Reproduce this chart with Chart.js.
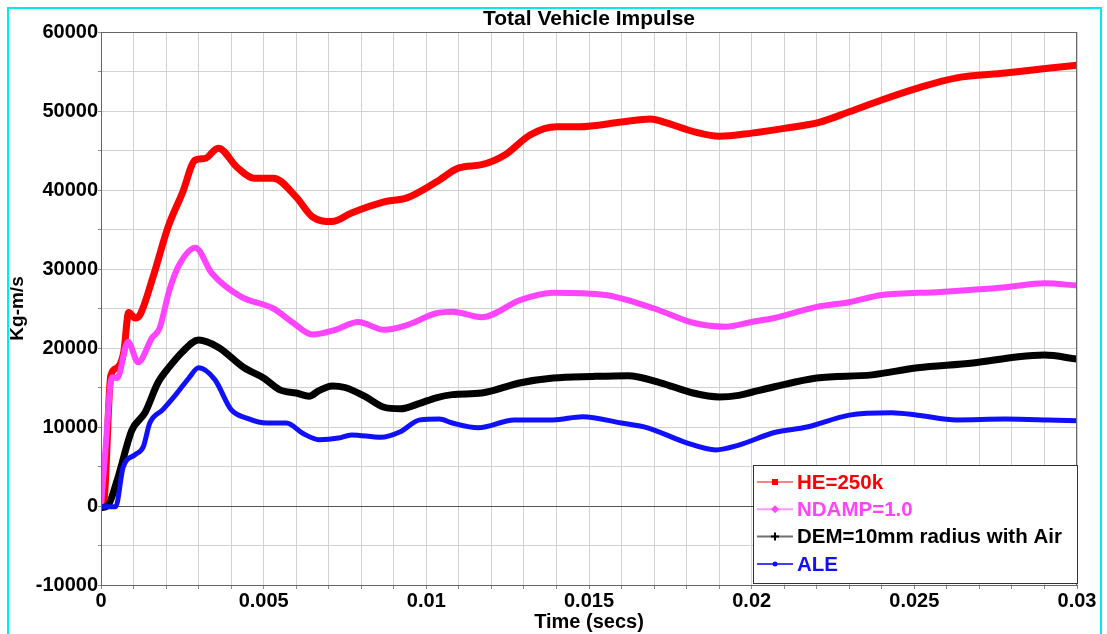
<!DOCTYPE html>
<html>
<head>
<meta charset="utf-8">
<script src="https://cdn.jsdelivr.net/npm/chart.js@4"></script>
<style>
  html, body { margin: 0; padding: 0; background: #fff; overflow: hidden; }
  #wrap { position: relative; width: 1107px; height: 634px; }
  #frame { position: absolute; left: 7px; top: 7px; width: 1091px; height: 700px; border: 2px solid #00eaf0; pointer-events: none; }
</style>
</head>
<body>
<div id="wrap">
  <canvas id="impulse" width="1107" height="634"></canvas>
  <div id="frame"></div>
</div>
<script>
const labels = ["HE=250k", "NDAMP=1.0", "DEM=10mm radius with Air", "ALE"];
const colors = ["#ff0000", "#ff44ff", "#000000", "#1010ff"];
const legendLineColors = ["#ff8080", "#ff99ff", "#707070", "#4040ff"];

// time (secs) and impulse (Kg-m/s)
const heX = [0, 0.0001, 0.0003, 0.0005, 0.0007, 0.00085, 0.00105, 0.0012, 0.0016, 0.00206, 0.0025, 0.0029, 0.0032, 0.0036, 0.0042, 0.0047, 0.0053, 0.006, 0.0065, 0.0071, 0.0077, 0.0087, 0.0094, 0.0103, 0.011, 0.0117, 0.0124, 0.0132, 0.014, 0.0147, 0.016, 0.0169, 0.0173, 0.0183, 0.019, 0.02, 0.021, 0.0221, 0.023, 0.024, 0.0251, 0.0263, 0.0278, 0.0291, 0.03];
const heY = [0, 1000, 16500, 17500, 19500, 24500, 23800, 24200, 29000, 35300, 39600, 43800, 44000, 45300, 42800, 41500, 41500, 39100, 36600, 36000, 37100, 38500, 39000, 41000, 42800, 43200, 44400, 47000, 48000, 48000, 48600, 49000, 48600, 47300, 46800, 47200, 47800, 48600, 49900, 51400, 52900, 54200, 54800, 55400, 55800];

const ndampX = [0, 0.00012, 0.00034, 0.0005, 0.00083, 0.00114, 0.00157, 0.0018, 0.0021, 0.0024, 0.0029, 0.0034, 0.0043, 0.0053, 0.0059, 0.0065, 0.0072, 0.0079, 0.0087, 0.0094, 0.0103, 0.0108, 0.0117, 0.0129, 0.0139, 0.0155, 0.017, 0.0182, 0.0192, 0.02, 0.0207, 0.022, 0.023, 0.024, 0.0258, 0.0278, 0.029, 0.03];
const ndampY = [0, 6200, 16300, 16200, 20800, 18200, 21300, 22500, 27300, 30500, 32700, 29500, 26500, 25000, 23200, 21700, 22300, 23300, 22300, 22900, 24400, 24600, 23900, 26100, 27000, 26700, 25000, 23200, 22700, 23300, 23800, 25200, 25800, 26700, 27100, 27700, 28200, 27900];

const demX = [0, 0.0002, 0.0005, 0.00095, 0.00135, 0.00175, 0.0021, 0.0025, 0.003, 0.0036, 0.0044, 0.005, 0.0055, 0.006, 0.0064, 0.0067, 0.0071, 0.0075, 0.0081, 0.0087, 0.0092, 0.0098, 0.0103, 0.0108, 0.0117, 0.0129, 0.0139, 0.0151, 0.0162, 0.0172, 0.0182, 0.019, 0.0196, 0.02, 0.0207, 0.022, 0.0237, 0.0251, 0.0268, 0.0282, 0.029, 0.03];
const demY = [-200, 0, 3300, 9600, 11800, 15600, 17600, 19500, 21000, 20100, 17500, 16200, 14700, 14300, 13900, 14600, 15200, 15000, 13900, 12500, 12300, 13000, 13700, 14100, 14300, 15600, 16200, 16400, 16500, 15600, 14300, 13800, 14000, 14400, 15100, 16200, 16600, 17500, 18100, 18900, 19100, 18600];

const aleX = [0, 0.00045, 0.00068, 0.00105, 0.0013, 0.0015, 0.0019, 0.0023, 0.0027, 0.003, 0.0035, 0.004, 0.0045, 0.0051, 0.0057, 0.0062, 0.0067, 0.0073, 0.0077, 0.0086, 0.0092, 0.0098, 0.0104, 0.0108, 0.0116, 0.0127, 0.0139, 0.0148, 0.016, 0.0168, 0.018, 0.0189, 0.0196, 0.0207, 0.0217, 0.023, 0.0243, 0.0251, 0.0263, 0.0278, 0.0291, 0.03];
const aleY = [-100, -100, 4900, 6500, 7500, 10500, 12200, 14100, 16200, 17500, 16000, 12200, 11100, 10500, 10500, 9200, 8400, 8600, 9000, 8700, 9400, 10900, 11000, 10500, 9900, 10900, 10900, 11300, 10500, 9900, 8000, 7100, 7700, 9300, 10000, 11500, 11800, 11500, 10900, 11000, 10900, 10800];

const xTickStep = 0.001;
const yTickStep = 5000;

function pts(xs, ys) {
  return xs.map((x, i) => ({ x: x, y: ys[i] }));
}

const series = [pts(heX, heY), pts(ndampX, ndampY), pts(demX, demY), pts(aleX, aleY)];
const widths = [7, 6, 7, 5];

const FONT = "'Liberation Sans', Arial, sans-serif";

// title centred over the plot area, frame and in-plot legend
const decorations = {
  id: "decorations",
  afterDraw(chart) {
    const ctx = chart.ctx;
    const a = chart.chartArea;
    ctx.save();
    ctx.fillStyle = "#000";
    ctx.font = "bold 21px " + FONT;
    ctx.textAlign = "center";
    ctx.textBaseline = "middle";
    ctx.fillText("Total Vehicle Impulse", (a.left + a.right) / 2, 19);

    ctx.strokeStyle = "#666";
    ctx.lineWidth = 1;
    ctx.strokeRect(a.left + 0.5, a.top + 0.5, a.right - a.left - 1, a.bottom - a.top);

    // legend box
    const bx = a.right - 324, by = a.bottom - 120, bw = 324, bh = 118;
    ctx.fillStyle = "#fff";
    ctx.fillRect(bx, by, bw, bh);
    ctx.strokeStyle = "#333";
    ctx.strokeRect(bx + 0.5, by + 0.5, bw, bh);
    ctx.font = "bold 20.5px " + FONT;
    ctx.textAlign = "left";
    labels.forEach((lab, i) => {
      const y = by + 17 + i * 27.3;
      ctx.strokeStyle = legendLineColors[i];
      ctx.lineWidth = 2;
      ctx.beginPath();
      ctx.moveTo(bx + 4, y);
      ctx.lineTo(bx + 40, y);
      ctx.stroke();
      ctx.fillStyle = colors[i];
      ctx.strokeStyle = colors[i];
      const mx = bx + 22;
      if (i === 0) {
        ctx.fillRect(mx - 3, y - 3, 6, 6);
      } else if (i === 1) {
        ctx.beginPath();
        ctx.moveTo(mx, y - 4); ctx.lineTo(mx + 4, y); ctx.lineTo(mx, y + 4); ctx.lineTo(mx - 4, y);
        ctx.closePath(); ctx.fill();
      } else if (i === 2) {
        ctx.lineWidth = 2;
        ctx.beginPath();
        ctx.moveTo(mx - 4, y); ctx.lineTo(mx + 4, y);
        ctx.moveTo(mx, y - 4); ctx.lineTo(mx, y + 4);
        ctx.stroke();
      } else {
        ctx.beginPath();
        ctx.arc(mx, y, 2.5, 0, Math.PI * 2);
        ctx.fill();
      }
      ctx.fillStyle = colors[i];
      ctx.fillText(lab, bx + 44, y + 1);
    });
    ctx.restore();
  }
};

new Chart("impulse", {
  type: "scatter",
  data: {
    datasets: series.map((d, i) => ({
      label: labels[i],
      data: d,
      showLine: true,
      borderColor: colors[i],
      backgroundColor: colors[i],
      borderWidth: widths[i],
      pointRadius: 0,
      cubicInterpolationMode: "monotone",
      order: 4 - i
    }))
  },
  options: {
    responsive: false,
    animation: false,
    devicePixelRatio: 1,
    layout: { padding: { top: 32, right: 30, left: 0, bottom: 0 } },
    plugins: {
      legend: { display: false },
      tooltip: { enabled: false },
      title: { display: false }
    },
    scales: {
      x: {
        type: "linear",
        min: 0,
        max: 0.03,
        afterFit(scale) { scale.height = 49; },
        ticks: {
          stepSize: xTickStep,
          autoSkip: false,
          maxRotation: 0,
          padding: 0,
          color: "#000",
          font: { family: FONT, size: 20, weight: "bold" },
          callback(v) {
            const k = Math.round(v * 1000);
            if (k % 5 !== 0) return "";
            return k === 0 ? "0" : String(k / 1000);
          }
        },
        grid: {
          color: "#d2d2d2",
          tickLength: 4,
          tickColor: "#888"
        },
        border: { color: "#666" },
        title: {
          display: true,
          text: "Time (secs)",
          color: "#000",
          font: { family: FONT, size: 20, weight: "bold" },
          padding: { top: 0, bottom: 0 }
        }
      },
      y: {
        min: -10000,
        max: 60000,
        afterFit(scale) { scale.width = 101; },
        ticks: {
          stepSize: yTickStep,
          autoSkip: false,
          padding: 0,
          color: "#000",
          font: { family: FONT, size: 20, weight: "bold" },
          callback(v) {
            return v % 10000 === 0 ? String(v) : "";
          }
        },
        grid: {
          color: (c) => (c.tick && c.tick.value === 0 ? "#555" : "#d2d2d2"),
          tickLength: 3,
          tickColor: "#888"
        },
        border: { color: "#666" },
        title: {
          display: true,
          text: "Kg-m/s",
          color: "#000",
          font: { family: FONT, size: 19, weight: "bold" },
          padding: { top: 6, bottom: 0 }
        }
      }
    }
  },
  plugins: [decorations]
});
</script>
</body>
</html>
